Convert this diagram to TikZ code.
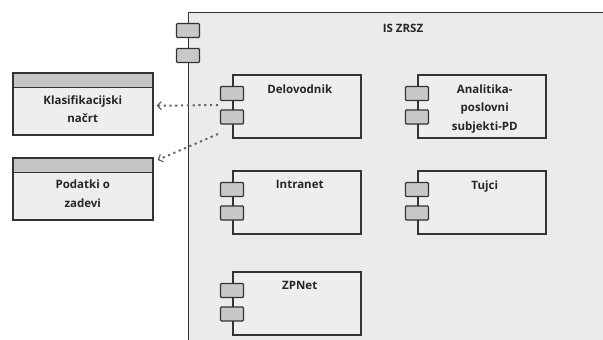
\documentclass[tikz,border=0pt]{standalone}
\usepackage{fontspec}
\setmainfont{Open Sans}
\usetikzlibrary{shadows,arrows.meta}
\definecolor{Ozadje}{HTML}{EBEBEB}
\definecolor{Polje}{HTML}{EEEEEE}
\definecolor{Vrata}{HTML}{C8C8C8}
\definecolor{Glava}{HTML}{C4C4C4}
\definecolor{Rob}{HTML}{333333}
\tikzset{
	MyComp/.style={draw=Rob,line width=1.5pt,fill=Polje,minimum width=128pt,
    minimum height=63pt,inner sep=0pt,anchor=north west,
    drop shadow={shadow xshift=1.5pt,shadow yshift=-1.5pt,fill=black!60,opacity=.6}},
	MyPort/.style={draw=Rob,line width=1.2pt,fill=Vrata,minimum width=23pt,
    minimum height=14pt,inner sep=0pt,rounded corners=1pt},
	MyClass/.style={draw=Rob,line width=1.5pt,fill=Polje,minimum width=140pt,
    minimum height=62pt,inner sep=0pt,anchor=north west,
    drop shadow={shadow xshift=1.5pt,shadow yshift=-1.5pt,fill=black!60,opacity=.6},
    path picture={\fill[Glava] (path picture bounding box.north west) rectangle
      ([yshift=-15pt]path picture bounding box.north east);
      \draw[Rob,line width=1.2pt] ([yshift=-15pt]path picture bounding box.north west)
      -- ([yshift=-15pt]path picture bounding box.north east);}},
	MyText/.style={font=\bfseries\fontsize{11.5}{18.5}\selectfont,align=center,
    text=black!85,inner sep=0pt},
	MyDep/.style={draw=black!60,line width=2pt,dash pattern=on 2.2pt off 3.6pt,
    -{Straight Barb[length=4pt,width=8pt,line width=1.2pt,sharp]}}
		}
\begin{document}
\begin{tikzpicture}[x=1pt,y=-1pt]
	\useasboundingbox (0,0) rectangle (603,340);

	% outer system box, runs off the page on the right and at the bottom
	\node[draw=Rob,line width=1pt,fill=Ozadje,minimum width=440pt,minimum height=350pt,
    anchor=north west] (sistem) at (188,12) {};
	\node[MyText] (naslov) at (403,28) {IS ZRSZ};
	\node[MyPort] (sistem-p1) at ([yshift=-18.5pt]sistem.north west) {};
	\node[MyPort] (sistem-p2) at ([yshift=-43.5pt]sistem.north west) {};

	\foreach \ime/\x/\y/\besedilo in {delo/232/74/Delovodnik,
      anal/417/74/{Analitika-\\poslovni\\subjekti-PD},
      intra/232/170/Intranet, tujci/417/170/Tujci, zpnet/232/271/ZPNet}% components
		{\node[MyComp] (\ime) at (\x,\y) {};
		 \node[MyText,anchor=north] (\ime-t) at ([xshift=3pt,yshift=-10.5pt]\ime.north) {\besedilo};
		 \node[MyPort] (\ime-p1) at ([yshift=-19.5pt]\ime.north west) {};
		 \node[MyPort] (\ime-p2) at ([yshift=-43pt]\ime.north west) {};
		}

	\node[MyClass] (klas) at (12,72) {};
	\node[MyText] (klas-t) at ([yshift=-5.5pt]klas.center) {Klasifikacijski\\načrt};
	\node[MyClass] (zadeva) at (12,157) {};
	\node[MyText] (zadeva-t) at ([yshift=-5pt]zadeva.center) {Podatki o\\zadevi};

	\draw[MyDep] ([xshift=-14pt,yshift=-31pt]delo.north west) -- ([xshift=3pt,yshift=-2pt]klas.east);
	\draw[MyDep] ([xshift=-14pt,yshift=-60pt]delo.north west) -- ([xshift=4pt,yshift=-3pt]zadeva.north east);
\end{tikzpicture}
\end{document}
